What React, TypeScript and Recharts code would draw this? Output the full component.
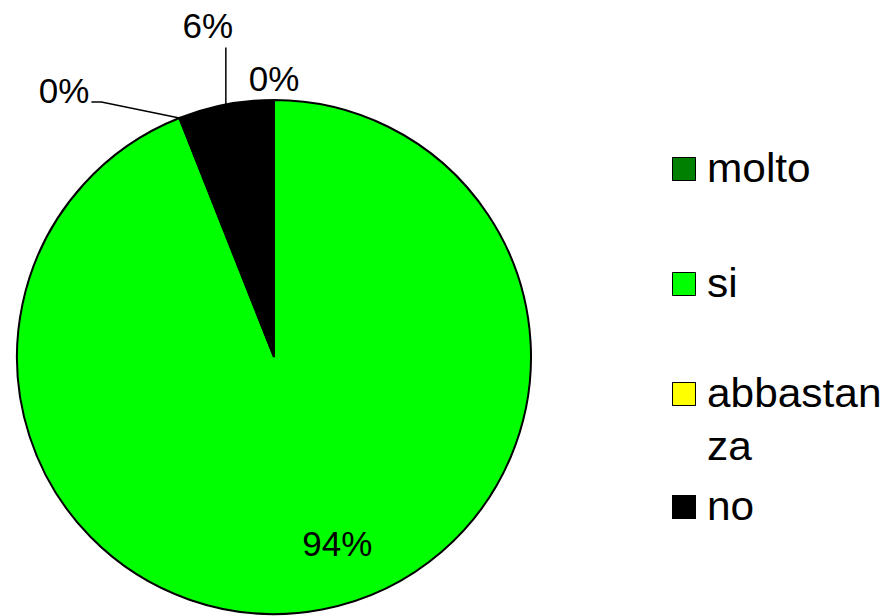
import { PieChart, Pie, Cell, Legend } from 'recharts';

const categories = ['molto', 'si', 'abbastanza', 'no'];
const values = [0, 94, 0, 6];
const colors = ['#008000', '#00ff00', '#ffff00', '#000000'];

const data = categories.map((name, i) => ({ name, value: values[i] }));

const FONT = '"Liberation Sans", Arial, sans-serif';
const RAD = Math.PI / 180;

// Excel-style label placement, one rule per slice
const renderLabel = (props: any) => {
  const { cx, cy, midAngle, outerRadius, percent, index } = props;
  const px = cx + outerRadius * Math.cos(-midAngle * RAD);
  const py = cy + outerRadius * Math.sin(-midAngle * RAD);
  const text = `${Math.round(percent * 100)}%`;
  const style = { fontFamily: FONT, fontSize: 35, fill: '#000' };

  if (index === 1) {
    const a = midAngle + 8;
    const r = outerRadius * 0.765;
    return (
      <text x={cx + r * Math.cos(-a * RAD)} y={cy + r * Math.sin(-a * RAD)} textAnchor="middle" dominantBaseline="central" style={style}>
        {text}
      </text>
    );
  }
  if (index === 2) {
    return (
      <g>
        <path d={`M${px},${py}L${px - 78},${py - 16}L${px - 88},${py - 16}`} stroke="#000" strokeWidth={1.5} fill="none" />
        <text x={px - 90} y={py - 15} textAnchor="end" style={style}>{text}</text>
      </g>
    );
  }
  if (index === 3) {
    return (
      <g>
        <path d={`M${px},${py}L${px},${py - 57}`} stroke="#000" strokeWidth={1.5} fill="none" />
        <text x={px - 18} y={py - 67} textAnchor="middle" style={style}>{text}</text>
      </g>
    );
  }
  return (
    <text x={px} y={py - 9} textAnchor="middle" style={style}>{text}</text>
  );
};

const rowHeights = [115, 110, 113, 53];

const renderLegend = () => (
  <div style={{ fontFamily: FONT, fontSize: 40, color: '#000' }}>
    {categories.map((c, i) => (
      <div key={c} style={{ display: 'flex', alignItems: 'flex-start', height: rowHeights[i] }}>
        <span
          style={{
            width: 22,
            height: 22,
            background: colors[i],
            border: '1.5px solid #000',
            marginTop: 15,
            flexShrink: 0,
          }}
        />
        <span
          style={{
            marginLeft: 11,
            lineHeight: '53px',
            width: 172,
            wordBreak: 'break-all',
            transform: 'scaleX(1.06)',
            transformOrigin: 'left',
          }}
        >
          {c}
        </span>
      </div>
    ))}
  </div>
);

export default function App() {
  return (
    <div style={{ position: 'fixed', left: 0, top: 0, width: 893, height: 616, background: '#fff' }}>
      <PieChart width={893} height={616} margin={{ top: 0, right: 0, bottom: 0, left: 0 }}>
        <Pie
          data={data}
          dataKey="value"
          nameKey="name"
          cx={274}
          cy={357}
          outerRadius={257}
          startAngle={90}
          endAngle={-270}
          stroke="#000"
          strokeWidth={2}
          label={renderLabel}
          labelLine={false}
          isAnimationActive={false}
        >
          {data.map((d, i) => (
            <Cell key={d.name} fill={colors[i]} />
          ))}
        </Pie>
        <Legend
          layout="vertical"
          align="right"
          verticalAlign="middle"
          content={renderLegend}
          wrapperStyle={{ left: 672, top: 142, width: 221 }}
        />
      </PieChart>
    </div>
  );
}
